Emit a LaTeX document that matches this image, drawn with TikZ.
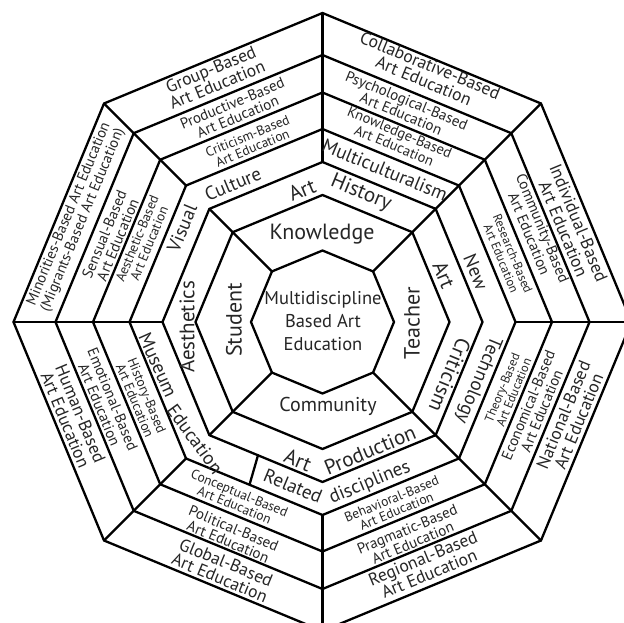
\documentclass[tikz,border=0pt]{standalone}
\usepackage{fontspec}
\setmainfont{PT Sans}
\usetikzlibrary{calc}
\newcommand{\fsz}[2]{\fontsize{#1}{#2}\selectfont}
\begin{document}
\begin{tikzpicture}[x=1pt,y=-1pt,
  frame/.style={line width=2.3pt, line join=round, line cap=round},
  lbl/.style={inner sep=0pt, align=center, text=black!85},
  ringF/.style={lbl, font=\fsz{17.5}{16.5}},
  ringE/.style={lbl, font=\fsz{15}{14.5}},
  ringD/.style={lbl, font=\fsz{13.5}{13}},
  ringC/.style={lbl, font=\fsz{19}{20}},
  ringB/.style={lbl, font=\fsz{21}{22}},
  ringA/.style={lbl, font=\fsz{22}{24}},
  core/.style={lbl, font=\fsz{18.5}{23}}]
\useasboundingbox (0,0) rectangle (624,623);
\fill[white] (0,0) rectangle (624,623);
\begin{scope}
\clip (0,0) rectangle (624,623);
\coordinate (c) at (322.5,322);
% vertices of the seven concentric octagons, k*45 degrees counter-clockwise from east
\foreach \i/\r in {0/71.5,1/127,2/160,3/193,4/229.5,5/267,6/309}{
  \foreach \k in {0,...,7}{
    \coordinate (p\i-\k) at ($(c)+(-\k*45:\r)$);
  }
}
\foreach \i in {0,...,6}
  \draw[frame] (p\i-0) -- (p\i-1) -- (p\i-2) -- (p\i-3) -- (p\i-4) -- (p\i-5) -- (p\i-6) -- (p\i-7) -- cycle;
% radial dividers
\draw[frame] (p0-1) -- (p6-1);
\draw[frame] (p0-7) -- (p6-7);
\draw[frame] (p0-3) -- (p2-3) (p3-3) -- (p6-3);
\draw[frame] (p0-5) -- (p2-5) (p3-5) -- (p6-5);
\draw[frame] (p2-2) -- (p6-2);
\draw[frame] (p2-4) -- (p6-4);
\draw[frame] (p3-0) -- (p6-0);
\draw[frame] (p3-6) -- (p6-6);
\coordinate (q1) at ($(p2-6)!0.57!(p2-5)$);
\coordinate (q2) at ($(p3-6)!0.535!(p3-5)$);
\draw[frame] (q1) -- (q2);

% outer ring
\node[ringF, rotate=-22.5] (tCollab) at (427,73) {Collaborative-Based\\Art Education};
\node[ringF, rotate=-67.5] (tIndiv) at (571,226) {Individual-Based\\Art Education};
\node[ringF, rotate=67.5] (tNational) at (571,418) {National-Based\\Art Education};
\node[ringF, rotate=22.5] (tRegional) at (426,566) {Regional-Based\\Art Education};
\node[ringF, rotate=-22.5] (tGlobal) at (223,570) {Global-Based\\Art Education};
\node[ringF, rotate=-67.5] (tHuman) at (73,417) {Human-Based\\Art Education};
\node[ringF, font=\fsz{14.8}{15}, rotate=67.5] (tMinor) at (76,217) {Minorities-Based Art Education\\(Migrants-Based Art Education)};
\node[ringF, rotate=22.5] (tGroup) at (214,77) {Group-Based\\Art Education};

% fifth ring
\node[ringE, rotate=-22.5] (tPsych) at (404,107) {Psychological-Based\\Art Education};
\node[ringE, rotate=-67.5] (tCommB) at (536,231) {Community-Based\\Art Education};
\node[ringE, rotate=67.5] (tEcon) at (535,408) {Economical-Based\\Art Education};
\node[ringE, rotate=22.5] (tPragm) at (410,536) {Pragmatic-Based\\Art Education};
\node[ringE, rotate=-22.5] (tPolit) at (231,535) {Political-Based\\Art Education};
\node[ringE, rotate=-67.5] (tEmot) at (106,402) {Emotional-Based\\Art Education};
\node[ringE, rotate=67.5] (tSens) at (111,237) {Sensual-Based\\Art Education};
\node[ringE, rotate=22.5] (tProd) at (235,110) {Productive-Based\\Art Education};

% fourth ring
\node[ringD, font=\fsz{14.5}{13}, rotate=-22.5] (tKnowB) at (397,139) {Knowledge-Based\\Art Education};
\node[ringD, font=\fsz{12.5}{12.5}, rotate=-67.5] (tResearch) at (507,256) {Research-Based\\Art Education};
\node[ringD, font=\fsz{12.5}{12.5}, rotate=67.5] (tTheory) at (508,390) {Theory-Based\\Art Education};
\node[ringD, rotate=22.5] (tBehav) at (394,505) {Behavioral-Based\\Art Education};
\node[ringD, rotate=-22.5] (tConcept) at (237,499) {Conceptual-Based\\Art Education};
\node[ringD, rotate=-67.5] (tHistB) at (141,398) {History-Based\\Art Education};
\node[ringD, rotate=67.5] (tAesB) at (143,241) {Aesthetic-Based\\Art Education};
\node[ringD, rotate=22.5] (tCritB) at (250,142) {Criticism-Based\\Art Education};

% third ring
\node[ringC, rotate=22.5] (tCulture) at (233,184) {Culture};
\node[ringC, rotate=67.5] (tVisual) at (182,228) {Visual};
\node[ringC, rotate=-22.5] (tMulti) at (385,170) {Multiculturalism};
\node[ringC, rotate=-67.5] (tNew) at (476,272) {New};
\node[ringC, rotate=-112.5] (tTech) at (478,380) {Technology};
\node[ringC, rotate=-22.5] (tRelated) at (293,486) {Related};
\node[ringC, rotate=22.5] (tDisc) at (370,483) {disciplines};
\node[ringC, rotate=-66] (tMuseum) at (158,365) {Museum};
\node[ringC, rotate=-54] (tEducation) at (195,439) {Education};

% second ring
\node[ringB, rotate=22.5] (tArtH) at (302,190) {Art};
\node[ringB, rotate=-22.5] (tHistory) at (361,193) {History};
\node[ringB, rotate=-67.5] (tArtC) at (444,275) {Art};
\node[ringB, rotate=-112.5] (tCriticism) at (450,375) {Criticism};
\node[ringB, rotate=-22.5] (tArtP) at (298,460) {Art};
\node[ringB, rotate=22.5] (tProduction) at (370,450) {Production};
\node[ringB, rotate=90] (tAesthetics) at (187,327) {Aesthetics};

% first ring and core
\node[ringA] (tKnowledge) at (322,234) {Knowledge};
\node[ringA, rotate=90] (tStudent) at (234,320) {Student};
\node[ringA, rotate=90] (tTeacher) at (412,323) {Teacher};
\node[ringA, font=\fsz{20}{22}] (tCommunity) at (328,406) {Community};
\node[core] (tCore) at (323,321) {Multidiscipline\\Based Art\\Education};
\end{scope}
\end{tikzpicture}
\end{document}
